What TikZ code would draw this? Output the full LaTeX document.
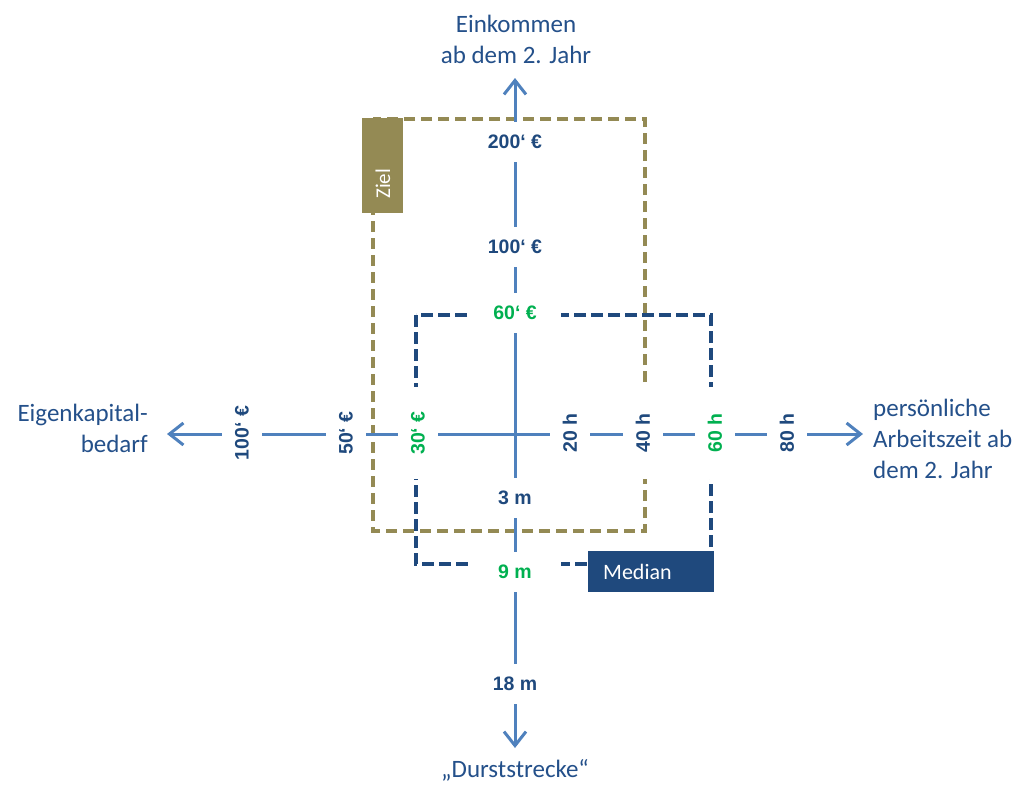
\documentclass[tikz,border=0pt]{standalone}
\usepackage{fontspec}
\setmainfont{Carlito}
\newfontfamily\lblfont{Liberation Sans}
\usetikzlibrary{arrows.meta}
\definecolor{axisblue}{HTML}{4F81BD}
\definecolor{darkblue}{HTML}{1F497D}
\definecolor{valgreen}{HTML}{00B050}
\definecolor{gold}{HTML}{948A54}
\definecolor{textblue}{HTML}{24508A}
\tikzset{
  axisline/.style={draw=axisblue, line width=3pt,
    {Straight Barb[length=14pt,width=22pt,line width=3pt]}-{Straight Barb[length=14pt,width=22pt,line width=3pt]}},
  goalframe/.style={draw=gold, line width=3.4pt, dash pattern=on 11pt off 6pt},
  medianframe/.style={draw=darkblue, line width=3.6pt, dash pattern=on 12pt off 5pt},
  tick/.style={fill=white, inner sep=0pt, minimum width=92pt, minimum height=40pt,
    font=\lblfont\fontsize{19.5}{21}\selectfont\bfseries, text=darkblue},
  htick/.style={tick, rotate=90},
  greentick/.style={text=valgreen},
  axistext/.style={font=\fontsize{25}{31}\selectfont, text=textblue, inner sep=0pt},
  tagbox/.style={inner sep=0pt, draw=none}
}
\begin{document}
\begin{tikzpicture}[x=1pt, y=-1pt]
\useasboundingbox[fill=white] (0,0) rectangle (1026,785);

% axis end points
\coordinate (N) at (515,78);
\coordinate (S) at (515,748);
\coordinate (W) at (167,434);
\coordinate (E) at (863,434);

% goal and median frames
\draw[goalframe] (373,119) rectangle (645,531);
\draw[medianframe] (416,315) rectangle (711,564);

% axes
\draw[axisline] (W) -- (E);
\draw[axisline] (N) -- (S);

% vertical scale
\node[tick] (v200) at (515,142) {200‘ €};
\node[tick] (v100) at (515,247) {100‘ €};
\node[tick, greentick] (v60) at (515,313) {60‘ €};
\node[tick] (v3) at (515,498) {3 m};
\node[tick, greentick] (v9) at (515,572) {9 m};
\node[tick] (v18) at (515,684) {18 m};

% horizontal scale
\node[htick] (h100) at (242,433) {100‘ €};
\node[htick] (h50) at (346,433) {50‘ €};
\node[htick, greentick] (h30) at (418,433) {30‘ €};
\node[htick] (h20) at (570,433) {20 h};
\node[htick] (h40) at (643,433) {40 h};
\node[htick, greentick] (h60) at (715,433) {60 h};
\node[htick] (h80) at (787,433) {80 h};

% tags
\path[tagbox, fill=gold] (362,118) rectangle (403,213);
\node[tagbox, rotate=90, anchor=west, text=white, font=\fontsize{21}{24}\selectfont] (ziel) at (383,199) {Ziel};
\path[tagbox, fill=darkblue] (588,551) rectangle (714,592);
\node[tagbox, anchor=west, text=white, font=\fontsize{22}{24}\selectfont] (median) at (603,572) {Median};

% axis captions (base anchor sits on the last line)
\node[axistext, align=center, anchor=base] (top) at (516,63) {Einkommen\\ab dem 2. Jahr};
\node[axistext, align=right, anchor=base east] (left) at (148,452) {Eigenkapital-\\bedarf};
\node[axistext, align=left, anchor=base west] (right) at (873,478) {persönliche\\Arbeitszeit ab\\dem 2. Jahr};
\node[axistext, anchor=base] (bottom) at (515,777) {„Durststrecke“};
\end{tikzpicture}
\end{document}
